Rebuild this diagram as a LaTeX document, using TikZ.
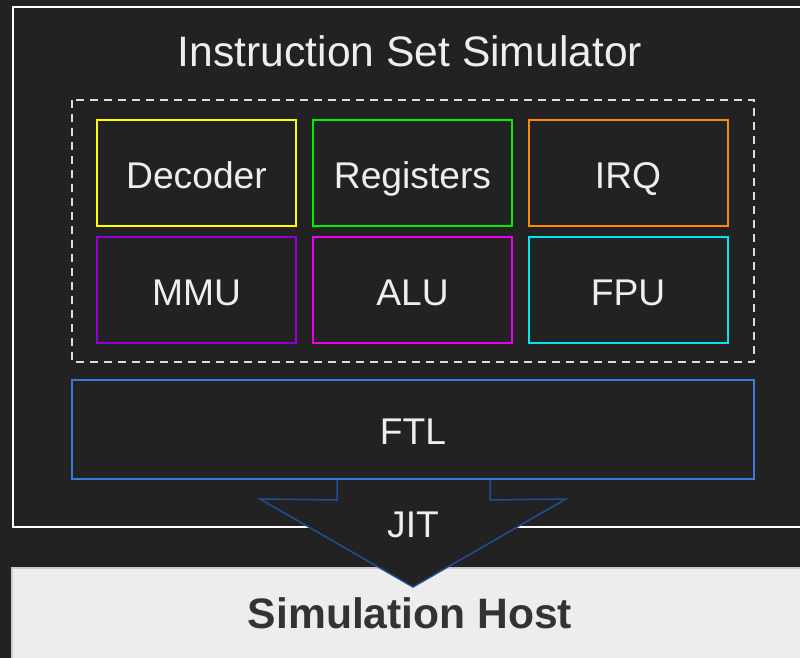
\documentclass[tikz,border=0pt]{standalone}
\usepackage{fontspec}
\setmainfont{Liberation Sans}
\usetikzlibrary{calc}

\definecolor{bgdark}{HTML}{222222}
\definecolor{txtlight}{HTML}{EEEEEE}
\definecolor{dashgray}{HTML}{DDDDDD}
\definecolor{cdec}{HTML}{FFFF00}
\definecolor{creg}{HTML}{00EE00}
\definecolor{cirq}{HTML}{FF8C00}
\definecolor{cmmu}{HTML}{9400D3}
\definecolor{calu}{HTML}{EE00EE}
\definecolor{cfpu}{HTML}{00E5EE}
\definecolor{cftl}{HTML}{3C78D8}
\definecolor{cjit}{HTML}{1F4E96}
\definecolor{hostfill}{HTML}{EDEDED}
\definecolor{hostline}{HTML}{CCCCCC}
\definecolor{hosttext}{HTML}{333333}

\tikzset{
  unitbox/.style={draw=#1, line width=2pt, fill=bgdark, text=txtlight,
    minimum width=199pt, minimum height=106pt, inner sep=0pt,
    text height=32.5pt, text depth=2.5pt,
    font=\fontsize{37.2}{40}\selectfont},
  labeltext/.style={text=txtlight, inner sep=0pt, font=\fontsize{37.2}{40}\selectfont},
}

\begin{document}
\begin{tikzpicture}[x=1pt, y=-1pt]
  \useasboundingbox (0,0) rectangle (800,658);
  \clip (0,0) rectangle (800,658);
  \fill[bgdark] (0,0) rectangle (800,658);

  % simulator frame
  \draw[white, line width=2pt] (13,7) rectangle (830,527);
  \node[text=txtlight, inner sep=0pt, font=\fontsize{42.6}{46}\selectfont] (title) at (410,51) {Instruction Set Simulator};

  % core group
  \draw[dashgray, line width=2pt, dash pattern=on 8pt off 6pt] (72,100) rectangle (754,362);

  \node[unitbox=cdec] (dec) at (196.5,173) {Decoder};
  \node[unitbox=creg] (reg) at (412.5,173) {Registers};
  \node[unitbox=cirq] (irq) at (628,173) {IRQ};
  \node[unitbox=cmmu] (mmu) at (196.5,290) {MMU};
  \node[unitbox=calu] (alu) at (412.5,290) {ALU};
  \node[unitbox=cfpu] (fpu) at (628,290) {FPU};

  % translation layer
  \node[unitbox=cftl, minimum width=682pt, minimum height=99pt] (ftl) at (413,429.5) {FTL};

  % host
  \draw[hostline, fill=hostfill, line width=1.5pt] (12,568) rectangle (830,700);
  \node[text=hosttext, inner sep=0pt, font=\fontsize{42.6}{46}\selectfont\bfseries] (host) at (410,613) {Simulation Host};

  % JIT block arrow from FTL down to the host
  \coordinate (sl) at ($(ftl.south)+(-76,0)$);
  \coordinate (sr) at ($(ftl.south)+(77,0)$);
  \coordinate (tip) at (413,587);
  \fill[bgdark] (sl) -- ++(0,20) -- (260,499) -- (tip) -- (566,499) -- ($(sr)+(0,20)$) -- (sr) -- cycle;
  \draw[cjit, line width=1.5pt, line join=miter] (sl) -- ++(0,20) -- (260,499) -- (tip) -- (566,499) -- ($(sr)+(0,20)$) -- (sr);
  \node[labeltext] (jit) at (413,525) {JIT};
\end{tikzpicture}
\end{document}
